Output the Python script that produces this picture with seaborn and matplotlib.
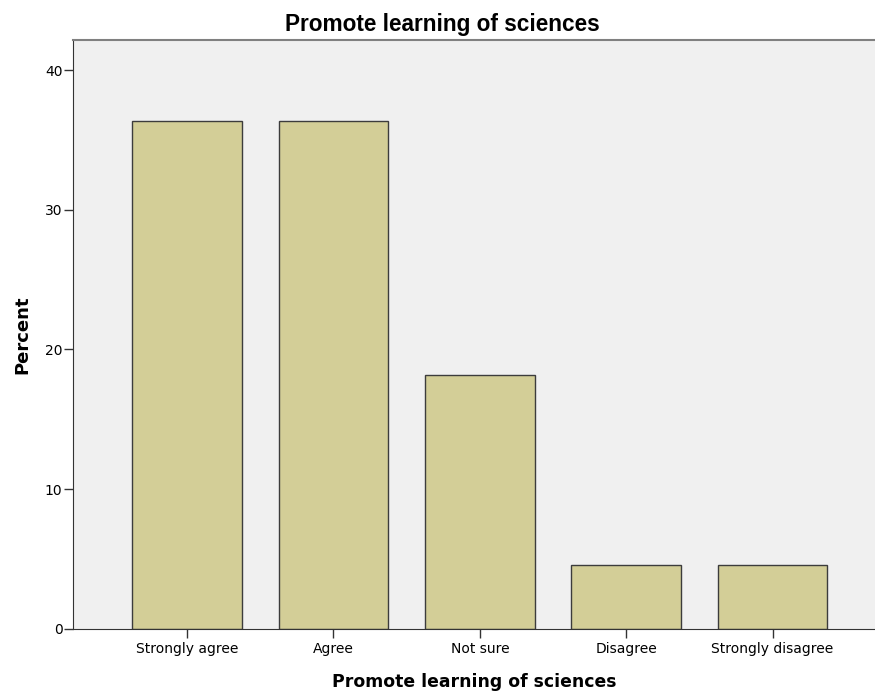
import matplotlib
matplotlib.use("Agg")
import matplotlib.pyplot as plt
from matplotlib import font_manager
import seaborn as sns
import pandas as pd

# survey responses (percent)
categories = ["Strongly agree", "Agree", "Not sure", "Disagree", "Strongly disagree"]
percents = [36.36, 36.36, 18.18, 4.55, 4.55]

sns.set_style("white")
plt.rcParams["font.family"] = ["DejaVu Sans"]
plt.rcParams["text.color"] = "black"
plt.rcParams["axes.labelcolor"] = "black"
plt.rcParams["xtick.color"] = "black"
plt.rcParams["ytick.color"] = "black"

# Arial-like bold for the title (avoid the Narrow variant)
title_font = font_manager.FontProperties(family="DejaVu Sans", weight="bold", size=14)
for f in font_manager.fontManager.ttflist:
    fn = f.fname.lower()
    if "liberationsans-bold.ttf" in fn.replace(" ", ""):
        title_font = font_manager.FontProperties(fname=f.fname, size=16.3)
        break

df = pd.DataFrame({"response": categories, "percent": percents})

fig = plt.figure(figsize=(8.75, 6.94), dpi=100)
ax = fig.add_axes([0.0834, 0.0937, 0.9166, 0.8487])
ax.set_facecolor("#F0F0F0")

sns.barplot(data=df, x="response", y="percent", order=categories,
            color="#D3CE97", saturation=1, width=0.75,
            edgecolor="#3C3C3C", linewidth=1.0, ax=ax)

ax.set_xlim(-0.78, 4.70)
ax.set_ylim(0, 42.15)
ax.set_yticks([0, 10, 20, 30, 40])

ax.spines["right"].set_visible(False)
ax.spines["top"].set_color("#808080")
ax.spines["top"].set_linewidth(1.5)
ax.spines["left"].set_color("#333333")
ax.spines["bottom"].set_color("#333333")

ax.tick_params(axis="both", direction="out", length=6.5, width=1,
               color="#333333", labelsize=10, left=True, bottom=True)
ax.tick_params(axis="y", pad=1)
ax.tick_params(axis="x", pad=3)

# chart title is centred on the whole figure, SPSS style
fig.text(0.506, 0.955, "Promote learning of sciences", fontproperties=title_font,
         ha="center", va="baseline")
ax.set_xlabel("Promote learning of sciences", fontsize=12.4, fontweight="bold", labelpad=12)
ax.set_ylabel("Percent", fontsize=13, fontweight="bold", labelpad=10)

fig.savefig("out.png", dpi=100, facecolor="white")
